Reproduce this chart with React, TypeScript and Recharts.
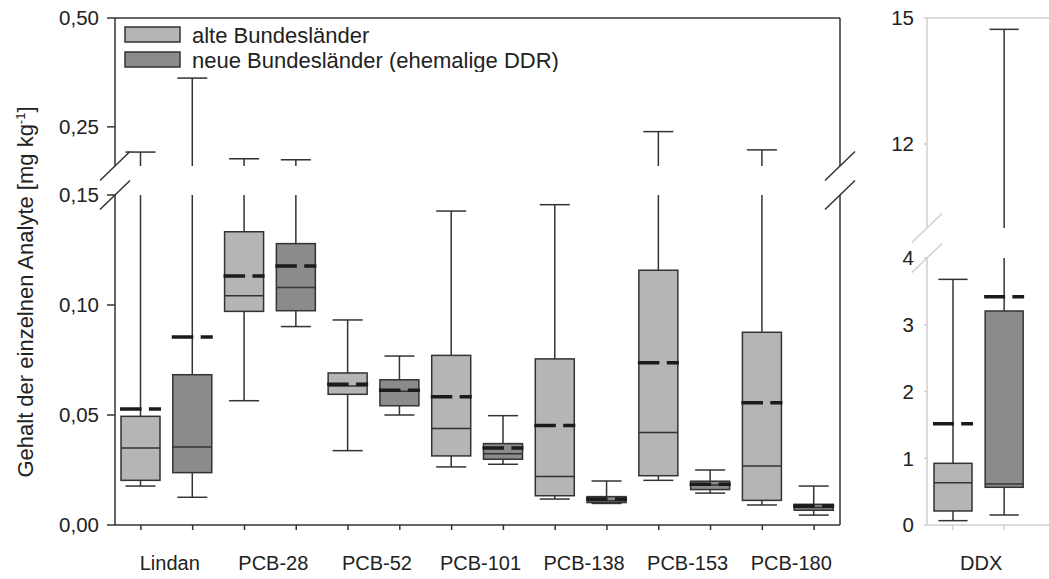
import React from "react";
import { ComposedChart, Bar, XAxis, YAxis, ReferenceArea, Legend } from "recharts";

// Gehalt in mg/kg
const analytes = ["Lindan", "PCB-28", "PCB-52", "PCB-101", "PCB-138", "PCB-153", "PCB-180"];
const regions = ["alte Bundesländer", "neue Bundesländer (ehemalige DDR)"];

const alteMin = [0.0177, 0.0565, 0.0338, 0.0264, 0.0118, 0.0203, 0.0091];
const alteQ1 = [0.0203, 0.0971, 0.0594, 0.0314, 0.0133, 0.0224, 0.0112];
const alteMedian = [0.035, 0.1042, 0.0632, 0.0439, 0.022, 0.042, 0.0268];
const alteQ3 = [0.0494, 0.1333, 0.0691, 0.0771, 0.0755, 0.1158, 0.0876];
const alteMax = [0.192, 0.1766, 0.0932, 0.1427, 0.1456, 0.239, 0.197];
const alteMean = [0.0527, 0.1132, 0.064, 0.0583, 0.0452, 0.0738, 0.0556];

const neuMin = [0.0126, 0.0902, 0.05, 0.0276, 0.0098, 0.0145, 0.0045];
const neuQ1 = [0.0238, 0.0974, 0.0542, 0.0299, 0.0102, 0.0161, 0.0067];
const neuMedian = [0.0355, 0.1079, 0.0608, 0.0324, 0.011, 0.0182, 0.008];
const neuQ3 = [0.0683, 0.1279, 0.066, 0.037, 0.0129, 0.0199, 0.0094];
const neuMax = [0.362, 0.1743, 0.0768, 0.0497, 0.02, 0.025, 0.0177];
const neuMean = [0.0855, 0.1177, 0.0612, 0.035, 0.0118, 0.0185, 0.0086];

// DDX: [alte, neu]
const ddxLabel = "DDX";
const ddxMin = [0.065, 0.15];
const ddxQ1 = [0.21, 0.565];
const ddxMedian = [0.634, 0.614];
const ddxQ3 = [0.924, 3.206];
const ddxMax = [3.68, 14.73];
const ddxMean = [1.518, 3.42];

const mainTicks = [0, 0.05, 0.1, 0.15, 0.25, 0.5];
const ddxTicks = [0, 1, 2, 3, 4, 12, 15];

const FILLS = ["#b5b5b5", "#8b8b8b"];
const DARK = "#333";
const LIGHT = "#cfcfcf";
const TEXT = "#222";
const FONT = "'Liberation Sans', Arial, sans-serif";
const TICK_FONT = 20.5;

// Broken axis: values are folded into display units (lower segment, gap, upper segment)
type Brk = { lowMax: number; highMin: number; highMax: number; low: number; gap: number; high: number };
const MAIN_BRK: Brk = { lowMax: 0.15, highMin: 0.16, highMax: 0.5, low: 330, gap: 29, high: 148 };
const DDX_BRK: Brk = { lowMax: 4, highMin: 10, highMax: 15, low: 267, gap: 30, high: 210 };

const span = (b: Brk) => b.low + b.gap + b.high;
const fold = (b: Brk, v: number) =>
  v <= b.lowMax ? (v / b.lowMax) * b.low : b.low + b.gap + ((v - b.highMin) / (b.highMax - b.highMin)) * b.high;

function row(b: Brk, pos: number, group: number, min: number, q1: number, med: number, q3: number, max: number, mean: number) {
  return {
    pos,
    group,
    min: fold(b, min),
    q1: fold(b, q1),
    median: fold(b, med),
    q3: fold(b, q3),
    mean: fold(b, mean),
    top: fold(b, max),
  };
}

const mainRows = analytes.flatMap((_, i) => [
  row(MAIN_BRK, 2 * i + 0.5, 0, alteMin[i], alteQ1[i], alteMedian[i], alteQ3[i], alteMax[i], alteMean[i]),
  row(MAIN_BRK, 2 * i + 1.5, 1, neuMin[i], neuQ1[i], neuMedian[i], neuQ3[i], neuMax[i], neuMean[i]),
]);
const ddxRows = [0, 1].map((j) => row(DDX_BRK, j + 0.5, j, ddxMin[j], ddxQ1[j], ddxMedian[j], ddxQ3[j], ddxMax[j], ddxMean[j]));

const mainXTicks = analytes.flatMap((_, i) => [2 * i + 0.5, 2 * i + 1, 2 * i + 1.5]);
const ddxXTicks = [0.5, 1, 1.5];

const fmtMain = (d: number) => {
  const v = mainTicks.find((t) => Math.abs(fold(MAIN_BRK, t) - d) < 0.01);
  return v === undefined ? "" : v.toFixed(2).replace(".", ",");
};
const fmtDdx = (d: number) => {
  const v = ddxTicks.find((t) => Math.abs(fold(DDX_BRK, t) - d) < 0.01);
  return v === undefined ? "" : String(v);
};

function BoxShape(props: any) {
  const { x, y, width, height, payload, brk } = props;
  if (!payload || !height) return null;
  // bar rect spans 0..top in display units; interpolate the other stats from it
  const yZero = y + height;
  const k = height / payload.top;
  const py = (d: number) => yZero - d * k;
  const cx = x + width / 2;
  const capHalf = width * 0.385;
  const gapLo = brk.low;
  const gapHi = brk.low + brk.gap;
  const yTop = py(payload.top);
  const upper =
    payload.top > gapHi
      ? [
          [py(payload.q3), py(gapLo)],
          [py(gapHi), yTop],
        ]
      : [[py(payload.q3), yTop]];
  const meanLen = width + 2;
  const dash = `${meanLen * 0.525} ${meanLen * 0.18} ${meanLen * 0.295}`;
  return (
    <g>
      {upper.map(([a, b], i) => (
        <line key={i} x1={cx} x2={cx} y1={a} y2={b} stroke={DARK} strokeWidth={1.5} />
      ))}
      <line x1={cx} x2={cx} y1={py(payload.q1)} y2={py(payload.min)} stroke={DARK} strokeWidth={1.5} />
      <line x1={cx - capHalf} x2={cx + capHalf} y1={yTop} y2={yTop} stroke={DARK} strokeWidth={1.5} />
      <line x1={cx - capHalf} x2={cx + capHalf} y1={py(payload.min)} y2={py(payload.min)} stroke={DARK} strokeWidth={1.5} />
      <rect
        x={x}
        y={py(payload.q3)}
        width={width}
        height={Math.max(1, py(payload.q1) - py(payload.q3))}
        fill={FILLS[payload.group]}
        stroke={DARK}
        strokeWidth={1.5}
      />
      <line x1={x} x2={x + width} y1={py(payload.median)} y2={py(payload.median)} stroke={DARK} strokeWidth={1.5} />
      <line
        x1={x - 1}
        x2={x + width + 1}
        y1={py(payload.mean)}
        y2={py(payload.mean)}
        stroke="#1b1b1b"
        strokeWidth={3.5}
        strokeDasharray={dash}
      />
    </g>
  );
}

function Frame(props: any) {
  const { x, y, width, height, brk, color, both } = props;
  const total = span(brk);
  const py = (d: number) => y + height - (d * height) / total;
  const gLo = py(brk.low);
  const gHi = py(brk.low + brk.gap);
  const sides = both ? [x, x + width] : [x];
  return (
    <g stroke={color} strokeWidth={1.5} fill="none">
      <line x1={x} x2={x + width} y1={y} y2={y} />
      {sides.map((sx: number) => (
        <g key={sx}>
          <line x1={sx} x2={sx} y1={y} y2={gHi} />
          <line x1={sx} x2={sx} y1={gLo} y2={y + height} />
          <line x1={sx - 15} y1={gHi + 14.5} x2={sx + 15} y2={gHi - 14.5} />
          <line x1={sx - 15} y1={gLo + 14.5} x2={sx + 15} y2={gLo - 14.5} />
        </g>
      ))}
    </g>
  );
}

const TICK = 6;
function makeXTick(labelOf: (v: number) => string | null, color: string) {
  return (props: any) => {
    const { x, y, payload } = props;
    const axisY = y - TICK;
    const label = labelOf(payload.value);
    if (label === null) {
      return <line x1={x} x2={x} y1={axisY} y2={axisY + 5} stroke={color} strokeWidth={1.5} />;
    }
    return (
      <text x={x + 3} y={axisY + 45} textAnchor="middle" fontSize={20} fill={TEXT} fontFamily={FONT}>
        {label}
      </text>
    );
  };
}
const MainXTick = makeXTick((v) => (Number.isInteger(v) ? analytes[(v - 1) / 2] : null), DARK);
const DdxXTick = makeXTick((v) => (v === 1 ? ddxLabel : null), LIGHT);

function TitleLabel(props: any) {
  const vb = props.viewBox;
  const cx = vb.x + 33;
  const cy = vb.y + 274;
  return (
    <text x={cx} y={cy} transform={`rotate(-90, ${cx}, ${cy})`} textAnchor="middle" fontSize={22} fill={TEXT} fontFamily={FONT}>
      Gehalt der einzelnen Analyte [mg kg
      <tspan dy={-8} fontSize={13}>
        -1
      </tspan>
      <tspan dy={8}>]</tspan>
    </text>
  );
}

function LegendContent() {
  return (
    <svg width={460} height={50} style={{ display: "block" }}>
      {regions.map((r, i) => (
        <g key={r}>
          <rect x={5} y={5 + i * 25} width={55} height={15} fill={FILLS[i]} stroke={DARK} strokeWidth={1.5} />
          <text x={72} y={20.5 + i * 25} fontSize={22} fill={TEXT} fontFamily={FONT}>
            {r}
          </text>
        </g>
      ))}
    </svg>
  );
}

export default function App() {
  return (
    <div
      style={{
        position: "absolute",
        left: 0,
        top: 0,
        width: 1049,
        height: 579,
        overflow: "hidden",
        background: "#fff",
        fontFamily: FONT,
      }}
    >
      <div style={{ position: "absolute", left: 0, top: 0 }}>
        <ComposedChart width={860} height={579} data={mainRows} margin={{ top: 18, right: 20, bottom: 0, left: 0 }}>
          <XAxis
            dataKey="pos"
            type="number"
            domain={[0, 14]}
            ticks={mainXTicks}
            interval={0}
            tickSize={TICK}
            tickMargin={0}
            tickLine={false}
            axisLine={{ stroke: DARK, strokeWidth: 1.5 }}
            height={54}
            tick={MainXTick}
          />
          <YAxis
            type="number"
            domain={[0, span(MAIN_BRK)]}
            ticks={mainTicks.map((t) => fold(MAIN_BRK, t))}
            interval={0}
            width={115}
            tickFormatter={fmtMain}
            tickSize={8}
            tickMargin={8}
            axisLine={false}
            tickLine={{ stroke: DARK, strokeWidth: 1.5 }}
            tick={{ fontSize: TICK_FONT, fill: TEXT, fontFamily: FONT }}
            label={TitleLabel}
          />
          <ReferenceArea
            x1={0}
            x2={14}
            y1={0}
            y2={span(MAIN_BRK)}
            shape={(p: any) => <Frame {...p} brk={MAIN_BRK} color={DARK} both />}
          />
          <Bar
            dataKey="top"
            barSize={39}
            isAnimationActive={false}
            shape={(p: any) => <BoxShape {...p} brk={MAIN_BRK} />}
          />
          <Legend
            content={LegendContent}
            layout="vertical"
            align="center"
            verticalAlign="middle"
            wrapperStyle={{ top: 22, left: 120, width: 460, height: 50 }}
          />
        </ComposedChart>
      </div>
      <div style={{ position: "absolute", left: 860, top: 0 }}>
        <ComposedChart width={200} height={579} data={ddxRows} margin={{ top: 18, right: 0, bottom: 0, left: 0 }}>
          <XAxis
            dataKey="pos"
            type="number"
            domain={[0, 2.6]}
            ticks={ddxXTicks}
            interval={0}
            tickSize={TICK}
            tickMargin={0}
            tickLine={false}
            axisLine={{ stroke: LIGHT, strokeWidth: 1.5 }}
            height={54}
            tick={DdxXTick}
          />
          <YAxis
            type="number"
            domain={[0, span(DDX_BRK)]}
            ticks={ddxTicks.map((t) => fold(DDX_BRK, t))}
            interval={0}
            width={67}
            tickFormatter={fmtDdx}
            tickSize={3}
            tickMargin={10}
            axisLine={false}
            tickLine={{ stroke: LIGHT, strokeWidth: 1.5 }}
            tick={{ fontSize: TICK_FONT, fill: TEXT, fontFamily: FONT }}
          />
          <ReferenceArea
            x1={0}
            x2={2.6}
            y1={0}
            y2={span(DDX_BRK)}
            shape={(p: any) => <Frame {...p} brk={DDX_BRK} color={LIGHT} both={false} />}
          />
          <Bar
            dataKey="top"
            barSize={38}
            isAnimationActive={false}
            shape={(p: any) => <BoxShape {...p} brk={DDX_BRK} />}
          />
        </ComposedChart>
      </div>
    </div>
  );
}
